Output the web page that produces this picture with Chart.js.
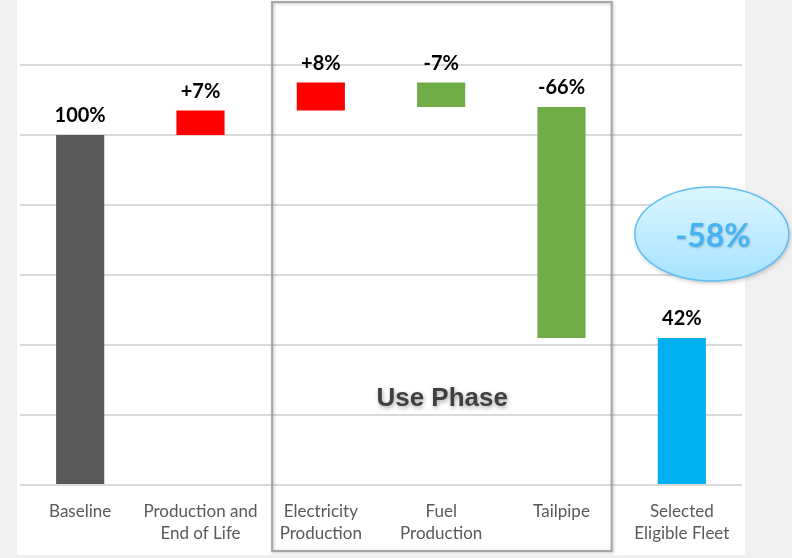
<!DOCTYPE html>
<html><head><meta charset="utf-8">
<script src="https://cdn.jsdelivr.net/npm/chart.js@4.4.1/dist/chart.umd.min.js"></script>
<style>html,body{margin:0;padding:0;background:#f0f0f0;}#wrap{width:792px;height:558px;}</style>
</head><body><div id="wrap"><canvas id="c" width="792" height="558"></canvas></div>
<script>
const categories = [["Baseline"],["Production and","End of Life"],["Electricity","Production"],["Fuel","Production"],["Tailpipe"],["Selected","Eligible Fleet"]];
const barStart = [0, 100, 107, 115, 108, 0];
const barEnd = [100, 107, 115, 108, 42, 42];
const valueLabels = ["100%", "+7%", "+8%", "-7%", "-66%", "42%"];
const barColors = ["#595959", "#ff0000", "#ff0000", "#70ad47", "#70ad47", "#00b0f0"];
const totalChange = "-58%";
const groupLabel = "Use Phase";

const decor = {
  id: 'decor',
  beforeDraw(chart) {
    const ctx = chart.ctx;
    ctx.save();
    ctx.fillStyle = '#f0f0f0';
    ctx.fillRect(0, 0, 792, 558);
    ctx.fillStyle = '#ffffff';
    ctx.fillRect(17, 0, 728, 555);
    ctx.restore();
  },
  afterDatasetsDraw(chart) {
    const ctx = chart.ctx;
    const x = chart.scales.x, y = chart.scales.y;
    const catW = x.getPixelForValue(1) - x.getPixelForValue(0);
    // value labels
    ctx.save();
    ctx.font = 'bold 20px Lato';
    ctx.fillStyle = '#000';
    ctx.textAlign = 'center';
    ctx.textBaseline = 'alphabetic';
    for (let i = 0; i < barEnd.length; i++) {
      const top = y.getPixelForValue(Math.max(barStart[i], barEnd[i]));
      ctx.fillText(valueLabels[i], x.getPixelForValue(i), top - 13);
    }
    ctx.restore();
    // Use Phase box
    const bl = x.getPixelForValue(2) - 0.405 * catW;
    const br = x.getPixelForValue(4) + 0.417 * catW;
    ctx.save();
    ctx.shadowColor = 'rgba(0,0,0,0.25)';
    ctx.shadowBlur = 3;
    ctx.shadowOffsetX = 1;
    ctx.shadowOffsetY = 1;
    ctx.strokeStyle = '#a6a6a6';
    ctx.lineWidth = 2;
    ctx.strokeRect(bl, 2, br - bl, 549);
    ctx.restore();
    // Use Phase text
    ctx.save();
    ctx.font = 'bold 26px "Liberation Sans"';
    ctx.fillStyle = '#404040';
    ctx.textAlign = 'center';
    ctx.shadowColor = 'rgba(0,0,0,0.35)';
    ctx.shadowBlur = 4;
    ctx.shadowOffsetX = 1;
    ctx.shadowOffsetY = 2;
    ctx.fillText(groupLabel, x.getPixelForValue(3) + 1, 406);
    ctx.restore();
    // ellipse
    const ex = x.getPixelForValue(5) + 30, ey = 234;
    ctx.save();
    ctx.beginPath();
    ctx.ellipse(ex, ey, 77, 47, 0, 0, Math.PI * 2);
    const g = ctx.createLinearGradient(0, ey - 47, 0, ey + 47);
    g.addColorStop(0, '#dcf5ff');
    g.addColorStop(1, '#a6e2ff');
    ctx.fillStyle = g;
    ctx.shadowColor = 'rgba(0,0,0,0.25)';
    ctx.shadowBlur = 4;
    ctx.shadowOffsetX = 1;
    ctx.shadowOffsetY = 2;
    ctx.fill();
    ctx.shadowColor = 'transparent';
    ctx.strokeStyle = '#5ebff5';
    ctx.lineWidth = 1.5;
    ctx.stroke();
    ctx.font = 'bold 32px Lato';
    ctx.fillStyle = '#45b4f2';
    ctx.textAlign = 'center';
    ctx.textBaseline = 'alphabetic';
    ctx.shadowColor = 'rgba(0,0,0,0.2)';
    ctx.shadowBlur = 2;
    ctx.shadowOffsetX = 1;
    ctx.shadowOffsetY = 1;
    ctx.fillText(totalChange, ex + 1, 247);
    ctx.restore();
  }
};

new Chart(document.getElementById('c'), {
  type: 'bar',
  data: {
    labels: categories,
    datasets: [{
      data: barStart.map((s, i) => [s, barEnd[i]]),
      backgroundColor: barColors,
      borderWidth: 0,
      barPercentage: 0.4,
      categoryPercentage: 1.0
    }]
  },
  options: {
    responsive: false,
    animation: false,
    layout: { padding: { left: 20, right: 50, top: 65, bottom: 0 } },
    plugins: { legend: { display: false }, tooltip: { enabled: false } },
    scales: {
      x: {
        grid: { display: false, drawTicks: false },
        border: { display: false },
        ticks: { color: '#595959', font: { family: 'Lato', size: 17, lineHeight: '22px' }, padding: 16, maxRotation: 0, autoSkip: false },
        afterFit(scale) { scale.height = 73; }
      },
      y: {
        min: 0, max: 120,
        ticks: { display: false, stepSize: 20 },
        grid: { color: '#d9d9d9', lineWidth: 2, drawTicks: false },
        border: { display: false },
        afterFit(scale) { scale.width = 0; }
      }
    }
  },
  plugins: [decor]
});
</script></body></html>
